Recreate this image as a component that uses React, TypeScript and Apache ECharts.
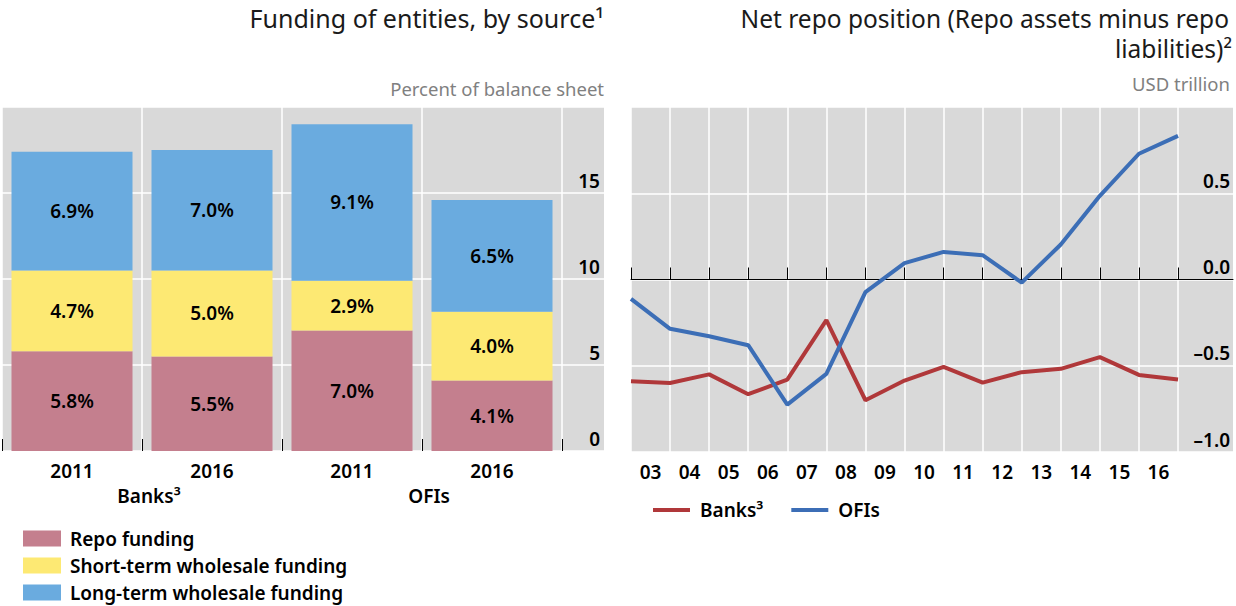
import React, { useEffect, useRef } from "react";
import * as echarts from "echarts";

// ---- Left panel data: funding of entities, by source (percent of balance sheet)
const barCategories = ["2011", "2016", "2011", "2016"];
const groupLabels = ["Banks³", "OFIs"];
const repoFunding = [5.8, 5.5, 7.0, 4.1];
const shortTermFunding = [4.7, 5.0, 2.9, 4.0];
const longTermFunding = [6.9, 7.0, 9.1, 6.5];
const leftAxisMin = 0;
const leftAxisMax = 20;
const leftAxisStep = 5;

// ---- Right panel data: net repo position (USD trillion), year-end observations
const yearLabels = ["03", "04", "05", "06", "07", "08", "09", "10", "11", "12", "13", "14", "15", "16"];
const observationDates = [
  "2002", "2003", "2004", "2005", "2006", "2007", "2008", "2009",
  "2010", "2011", "2012", "2013", "2014", "2015", "2016",
];
const banksNet = [-0.59, -0.6, -0.55, -0.665, -0.58, -0.236, -0.7, -0.586, -0.506, -0.598, -0.537, -0.518, -0.45, -0.553, -0.58];
const ofisNet = [-0.112, -0.286, -0.329, -0.381, -0.725, -0.547, -0.073, 0.095, 0.16, 0.141, -0.018, 0.203, 0.485, 0.729, 0.833];
const rightAxisMin = -1;
const rightAxisMax = 1;
const rightAxisStep = 0.5;

const FONT = "'Noto Sans', 'Open Sans', sans-serif";
const GRAY = "#D9D9D9";

export default function App() {
  const ref = useRef<HTMLDivElement>(null);

  useEffect(() => {
    if (!ref.current) return;
    const chart = echarts.init(ref.current, undefined, { renderer: "svg" });

    const labelStyle = { fontFamily: FONT, fontSize: 19, fontWeight: 600, color: "#000" };

    const titleText = (text: string, x: number, y: number, size: number, fill: string) => ({
      type: "text",
      x,
      y,
      style: {
        text,
        textAlign: "right",
        textVerticalAlign: "middle",
        fontFamily: FONT,
        fontSize: size,
        lineHeight: size + 2,
        fill,
      },
    });

    const option: any = {
      animation: false,
      textStyle: { fontFamily: FONT },
      graphic: [
        titleText("Funding of entities, by source¹", 604, 18, 25, "#1a1a1a"),
        titleText("Percent of balance sheet", 604, 88, 18.5, "#808080"),
        titleText("Net repo position (Repo assets minus repo", 1229, 18, 24.5, "#1a1a1a"),
        titleText("liabilities)²", 1232, 48, 24.5, "#1a1a1a"),
        titleText("USD trillion", 1230, 83, 18.5, "#808080"),
      ],
      legend: [
        {
          orient: "vertical",
          left: 23,
          top: 528,
          padding: 0,
          itemWidth: 38,
          itemHeight: 16,
          itemGap: 6,
          icon: "rect",
          data: ["Repo funding", "Short-term wholesale funding", "Long-term wholesale funding"],
          textStyle: { ...labelStyle, fontSize: 19, lineHeight: 21, padding: [0, 0, 0, 4] },
        },
        {
          orient: "horizontal",
          left: 653,
          top: 499,
          padding: 0,
          itemWidth: 37,
          itemHeight: 4,
          itemGap: 28,
          icon: "rect",
          data: ["Banks³", "OFIs"],
          textStyle: { ...labelStyle, fontSize: 19, lineHeight: 22, padding: [0, 0, 0, 5] },
        },
      ],
      grid: [
        { left: 2, width: 560, top: 107, height: 344 },
        { left: 2, width: 602, top: 107, height: 344, show: true, backgroundColor: GRAY, borderWidth: 0 },
        { left: 631, width: 547, top: 107, height: 345 },
        { left: 631, width: 602, top: 107, height: 345, show: true, backgroundColor: GRAY, borderWidth: 0 },
      ],
      xAxis: [
        {
          gridIndex: 0,
          type: "category",
          data: barCategories,
          boundaryGap: true,
          axisLine: { show: false },
          axisTick: { show: true, inside: true, length: 12, interval: 0, lineStyle: { color: "#000", width: 1 } },
          splitLine: { show: true, interval: 0, lineStyle: { color: "#fff", width: 1.5 } },
          axisLabel: { ...labelStyle, margin: 10, interval: 0 },
        },
        {
          gridIndex: 0,
          type: "category",
          data: groupLabels,
          position: "bottom",
          offset: 25,
          axisLine: { show: false },
          axisTick: { show: false },
          splitLine: { show: false },
          axisLabel: { ...labelStyle, margin: 10, interval: 0, padding: [0, 0, 0, 14] },
        },
        { gridIndex: 1, type: "value", min: 0, max: 1, show: false },
        {
          gridIndex: 2,
          type: "category",
          data: yearLabels,
          boundaryGap: true,
          axisLine: { show: false },
          axisTick: { show: true, inside: true, length: 12, interval: 0, lineStyle: { color: "#000", width: 1 } },
          splitLine: { show: true, interval: 0, lineStyle: { color: "#fff", width: 1.5 } },
          axisLabel: { ...labelStyle, margin: 10, interval: 0 },
        },
        {
          gridIndex: 2,
          type: "category",
          data: observationDates,
          boundaryGap: false,
          show: false,
        },
        {
          gridIndex: 3,
          type: "value",
          min: 0,
          max: 1,
          axisLine: { show: true, onZero: true, lineStyle: { color: "#000", width: 1 } },
          axisTick: { show: false },
          axisLabel: { show: false },
          splitLine: { show: false },
        },
      ],
      yAxis: [
        { gridIndex: 0, type: "value", min: leftAxisMin, max: leftAxisMax, interval: leftAxisStep, show: false },
        {
          gridIndex: 1,
          type: "value",
          min: leftAxisMin,
          max: leftAxisMax,
          interval: leftAxisStep,
          position: "right",
          axisLine: { show: false },
          axisTick: { show: false },
          splitLine: { show: true, lineStyle: { color: "#fff", width: 1.5 } },
          axisLabel: {
            ...labelStyle,
            inside: true,
            align: "right",
            verticalAlign: "bottom",
            margin: 4,
            padding: [0, 0, 3, 0],
            showMaxLabel: false,
          },
        },
        { gridIndex: 2, type: "value", min: rightAxisMin, max: rightAxisMax, interval: rightAxisStep, show: false },
        {
          gridIndex: 3,
          type: "value",
          min: rightAxisMin,
          max: rightAxisMax,
          interval: rightAxisStep,
          position: "right",
          axisLine: { show: false },
          axisTick: { show: false },
          splitLine: { show: true, lineStyle: { color: "#fff", width: 1.5 } },
          axisLabel: {
            ...labelStyle,
            inside: true,
            align: "right",
            verticalAlign: "bottom",
            margin: 3,
            padding: [0, 0, 3, 0],
            showMaxLabel: false,
            formatter: (v: number) => v.toFixed(1).replace("-", "–"),
          },
        },
      ],
      series: [
        {
          name: "Repo funding",
          type: "bar",
          stack: "funding",
          xAxisIndex: 0,
          yAxisIndex: 0,
          barWidth: 121,
          data: repoFunding,
          itemStyle: { color: "#C47F8E" },
          label: { show: true, position: "inside", ...labelStyle, formatter: (p: any) => p.value.toFixed(1) + "%" },
        },
        {
          name: "Short-term wholesale funding",
          type: "bar",
          stack: "funding",
          xAxisIndex: 0,
          yAxisIndex: 0,
          barWidth: 121,
          data: shortTermFunding,
          itemStyle: { color: "#FDE973" },
          label: { show: true, position: "inside", ...labelStyle, formatter: (p: any) => p.value.toFixed(1) + "%" },
        },
        {
          name: "Long-term wholesale funding",
          type: "bar",
          stack: "funding",
          xAxisIndex: 0,
          yAxisIndex: 0,
          barWidth: 121,
          data: longTermFunding,
          itemStyle: { color: "#6AABDF" },
          label: { show: true, position: "inside", ...labelStyle, formatter: (p: any) => p.value.toFixed(1) + "%" },
        },
        {
          name: "Banks³",
          type: "line",
          xAxisIndex: 4,
          yAxisIndex: 2,
          data: banksNet,
          symbol: "none",
          color: "#B0383A",
          lineStyle: { color: "#B0383A", width: 4 },
        },
        {
          name: "OFIs",
          type: "line",
          xAxisIndex: 4,
          yAxisIndex: 2,
          data: ofisNet,
          symbol: "none",
          color: "#3C6EB6",
          lineStyle: { color: "#3C6EB6", width: 4 },
        },
      ],
    };

    chart.setOption(option);
    return () => chart.dispose();
  }, []);

  return <div ref={ref} style={{ width: 1236, height: 606, position: "absolute", left: 0, top: 0 }} />;
}
